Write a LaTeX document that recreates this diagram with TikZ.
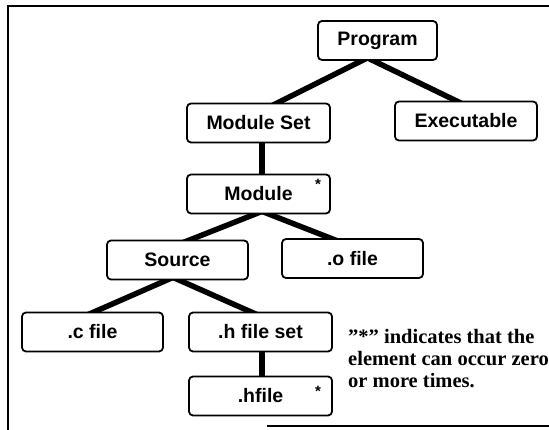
\documentclass[tikz,border=0pt]{standalone}
\usepackage{fontspec}
\setmainfont{Liberation Serif}
\newfontfamily\boxfont{Liberation Sans}
\usetikzlibrary{backgrounds}
\begin{document}
\begin{tikzpicture}[x=1pt,y=-1pt,
  box/.style={draw, line width=1.8pt, rounded corners=4pt, fill=white,
    minimum width=142pt, minimum height=39pt, inner sep=0pt,
    font=\boxfont\bfseries\fontsize{19.5}{22}\selectfont},
  link/.style={line width=5.5pt},
  starmark/.style={font=\boxfont\bfseries\fontsize{15}{15}\selectfont, inner sep=0pt},
  notetext/.style={font=\bfseries\fontsize{20.5}{22}\selectfont, align=left,
    anchor=north west, inner sep=0pt},
  frame/.style={line width=1.5pt}]
\useasboundingbox (0,0) rectangle (549,430);
% frame
\draw[frame] (8,430) -- (8,6) -- (549,6);
\draw[frame] (267,426) -- (549,426);
% boxes
\node[box, minimum width=119pt] (prog) at (377.5,40.5) {Program};
\node[box, minimum width=143pt] (modset) at (258.5,123) {Module Set};
\node[box] (exe) at (466,121) {Executable};
\node[box, minimum width=143pt] (mod) at (258.5,194) {Module};
\node[box, minimum width=141pt] (src) at (177.5,260) {Source};
\node[box, minimum width=141pt] (ofile) at (352.5,258.5) {.o file};
\node[box, minimum width=141pt] (cfile) at (92.5,332) {.c file};
\node[box, minimum width=143pt] (hset) at (260.5,332) {.h file set};
\node[box, minimum width=143pt] (hfile) at (260.5,396) {.hfile};
% stars
\node[starmark] (star1) at (318,184) {*};
\node[starmark] (star2) at (318,391) {*};
% note
\node[notetext] (note) at (348,329) {\symbol{34}*\symbol{34} indicates that the\\element can occur zero\\or more times.};
% connectors
\begin{scope}[on background layer]
\draw[link] ([xshift=-10pt,yshift=3pt]prog.south) -- ([xshift=13.5pt,yshift=-3pt]modset.north);
\draw[link] ([xshift=-10pt,yshift=3pt]prog.south) -- ([xshift=-4pt,yshift=-3pt]exe.north);
\draw[link] ([xshift=3.5pt,yshift=3pt]modset.south) -- ([xshift=3.5pt,yshift=-3pt]mod.north);
\draw[link] ([xshift=3.5pt,yshift=3pt]mod.south) -- ([xshift=5.5pt,yshift=-3pt]src.north);
\draw[link] ([xshift=3.5pt,yshift=3pt]mod.south) -- ([xshift=-14.5pt,yshift=-3pt]ofile.north);
\draw[link] ([xshift=-4.5pt,yshift=3pt]src.south) -- ([xshift=-4.5pt,yshift=-3pt]cfile.north);
\draw[link] ([xshift=-4.5pt,yshift=3pt]src.south) -- ([xshift=-3.5pt,yshift=-3pt]hset.north);
\draw[link] ([xshift=1.5pt,yshift=3pt]hset.south) -- ([xshift=1.5pt,yshift=-3pt]hfile.north);
\end{scope}
\end{tikzpicture}
\end{document}
